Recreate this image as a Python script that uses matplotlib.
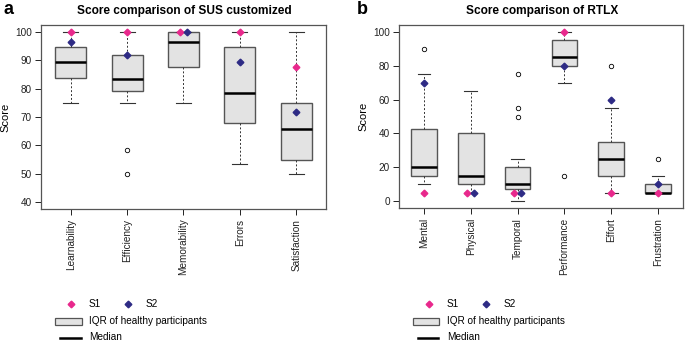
import matplotlib
matplotlib.use("Agg")
import matplotlib.pyplot as plt
from matplotlib.lines import Line2D
from matplotlib.patches import Rectangle

plt.rcParams['font.family'] = ['Liberation Sans', 'DejaVu Sans']

# ---------------- data: panel a (SUS customized) ----------------
sus_cats = ["Learnability", "Efficiency", "Memorability", "Errors", "Satisfaction"]
sus_q1 = [83.9, 79.2, 87.5, 68.0, 54.7]
sus_med = [89.4, 83.3, 96.4, 78.6, 65.6]
sus_q3 = [94.6, 91.7, 100.0, 94.6, 75.0]
sus_whislo = [75.0, 75.0, 75.0, 53.6, 50.0]
sus_whishi = [100.0, 100.0, 100.0, 100.0, 100.0]
sus_fliers = [[], [58.3, 50.0], [], [], []]
sus_s1 = [100.0, 100.0, 100.0, 100.0, 87.5]
sus_s2 = [96.4, 91.7, 100.0, 89.3, 71.9]
sus_yticks = [40, 50, 60, 70, 80, 90, 100]

# ---------------- data: panel b (RTLX) ----------------
rtlx_cats = ["Mental", "Physical", "Temporal", "Performance", "Effort", "Frustration"]
rtlx_q1 = [15.0, 10.0, 7.5, 80.0, 15.0, 5.0]
rtlx_med = [20.0, 15.0, 10.0, 85.0, 25.0, 5.0]
rtlx_q3 = [42.5, 40.0, 20.0, 95.0, 35.0, 10.0]
rtlx_whislo = [10.0, 5.0, 0.0, 70.0, 5.0, 5.0]
rtlx_whishi = [75.0, 65.0, 25.0, 100.0, 55.0, 15.0]
rtlx_fliers = [[90.0], [], [50.0, 55.0, 75.0], [15.0], [80.0], [25.0]]
rtlx_s1 = [5.0, 5.0, 5.0, 100.0, 5.0, 5.0]
rtlx_s2 = [70.0, 5.0, 5.0, 80.0, 60.0, 10.0]
rtlx_yticks = [0, 20, 40, 60, 80, 100]

# ---------------- style ----------------
W, H = 685, 342
PINK = "#E8288C"
NAVY = "#2E2B85"
BOXFILL = "#E3E3E3"
BOXEDGE = "#555555"
FS = 7.2

fig = plt.figure(figsize=(W / 100, H / 100), dpi=100)


def px(x0, y0, x1, y1):
    return [x0 / W, 1 - y1 / H, (x1 - x0) / W, (y1 - y0) / H]


def panel(rect, cats, q1, med, q3, lo, hi, fliers, s1, s2, yticks, ylim, title, letter, letter_x, title_x):
    ax = fig.add_axes(rect)
    stats = []
    for i in range(len(cats)):
        stats.append(dict(q1=q1[i], med=med[i], q3=q3[i], whislo=lo[i], whishi=hi[i],
                          fliers=fliers[i], label=cats[i]))
    pos = list(range(1, len(cats) + 1))
    ax.bxp(stats, positions=pos, widths=0.55, patch_artist=True, showfliers=True,
           boxprops=dict(facecolor=BOXFILL, edgecolor=BOXEDGE, linewidth=1.0),
           medianprops=dict(color="black", linewidth=1.8),
           whiskerprops=dict(color="#333333", linestyle=(0, (2, 2)), linewidth=0.7),
           capprops=dict(color="#333333", linewidth=0.8),
           capwidths=0.27,
           flierprops=dict(marker="o", markersize=3.2, markerfacecolor="white",
                           markeredgecolor="black", markeredgewidth=0.6))
    for i, p in enumerate(pos):
        off = 0.07 if s1[i] == s2[i] else 0.0
        ax.plot(p - off, s1[i], marker="D", ms=3.4, color=PINK, zorder=5, clip_on=False)
        ax.plot(p + off, s2[i], marker="D", ms=3.4, color=NAVY, zorder=5, clip_on=False)
    ax.set_xlim(0.47, len(cats) + 0.53)
    ax.set_ylim(*ylim)
    ax.set_yticks(yticks)
    ax.set_xticks(pos)
    ax.set_xticklabels(cats, rotation=90, fontsize=FS, va="top")
    ax.tick_params(axis="y", labelsize=FS, length=4, width=0.7, pad=2.5, colors="#222222")
    ax.tick_params(axis="x", length=4, width=0.7, pad=3, colors="#222222")
    for s in ax.spines.values():
        s.set_color("#555555")
        s.set_linewidth(0.9)
    ax.set_ylabel("Score", fontsize=8, labelpad=3)
    fig.text(title_x / W, 1 - 11 / H, title, ha="center", va="center", fontsize=8.6, fontweight="bold")
    fig.text(letter_x / W, 1 - 10 / H, letter, ha="left", va="center", fontsize=13, fontweight="bold")
    return ax


panel(px(41, 25, 326, 209), sus_cats, sus_q1, sus_med, sus_q3, sus_whislo, sus_whishi,
      sus_fliers, sus_s1, sus_s2, sus_yticks, (37.6, 102.4),
      "Score comparison of SUS customized", "a", 4, 184)
panel(px(399, 25, 683, 208), rtlx_cats, rtlx_q1, rtlx_med, rtlx_q3, rtlx_whislo, rtlx_whishi,
      rtlx_fliers, rtlx_s1, rtlx_s2, rtlx_yticks, (-4, 104),
      "Score comparison of RTLX", "b", 357, 542)


def legend(x_s1, x_s2, x_rect0, x_rect1, x_med0, x_med1, x_text):
    tr = fig.transFigure
    LFS = 7.2
    y1 = 1 - 304 / H
    fig.add_artist(Line2D([x_s1 / W], [y1], marker="D", ms=3.4, color=PINK, transform=tr))
    fig.add_artist(Line2D([x_s2 / W], [y1], marker="D", ms=3.4, color=NAVY, transform=tr))
    fig.text((x_s1 + 18) / W, y1, "S1", fontsize=LFS, va="center", ha="left")
    fig.text((x_s2 + 18) / W, y1, "S2", fontsize=LFS, va="center", ha="left")
    y2 = 1 - 321 / H
    fig.add_artist(Rectangle((x_rect0 / W, y2 - 3.5 / H), (x_rect1 - x_rect0) / W, 7 / H,
                             facecolor=BOXFILL, edgecolor=BOXEDGE, linewidth=0.9, transform=tr))
    fig.text(x_text / W, y2, "IQR of healthy participants", fontsize=LFS, va="center", ha="left")
    y3 = 1 - 337.5 / H
    fig.add_artist(Line2D([x_med0 / W, x_med1 / W], [y3, y3], color="black", lw=1.8, transform=tr))
    fig.text(x_text / W, y3, "Median", fontsize=LFS, va="center", ha="left")


legend(71, 127.7, 55, 81.7, 60, 80.7, 89)
legend(429, 485.7, 413.3, 439.3, 417.7, 438.3, 446.7)

fig.savefig("out.png", dpi=100)
